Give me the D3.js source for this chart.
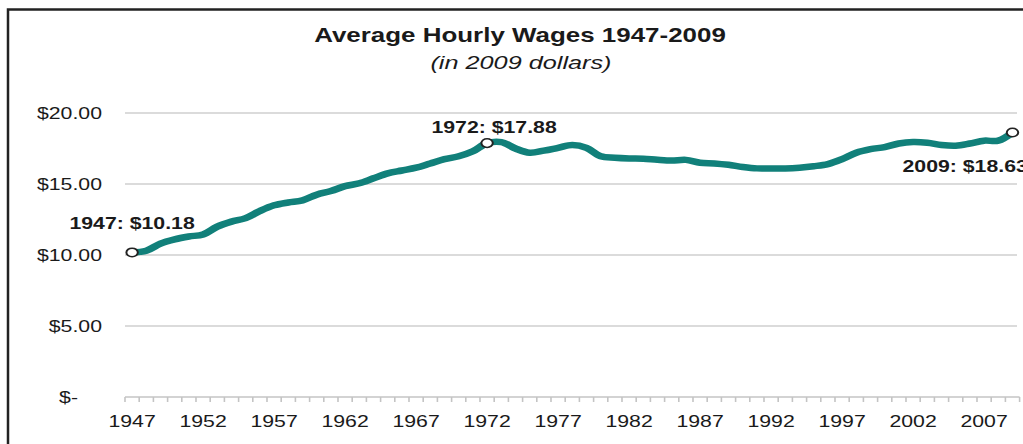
<!DOCTYPE html>
<html>
<head>
<meta charset="utf-8">
<script src="https://cdn.jsdelivr.net/npm/d3@7"></script>
<style>
  html, body { margin: 0; padding: 0; background: #fff; overflow: hidden; }
  text { font-family: "Liberation Sans", Arial, sans-serif; fill: #1a1a1a; }
</style>
</head>
<body>
<script>
// ---- data ----
const years = [1947,1948,1949,1950,1951,1952,1953,1954,1955,1956,1957,1958,1959,
  1960,1961,1962,1963,1964,1965,1966,1967,1968,1969,1970,1971,1972,1973,1974,1975,
  1976,1977,1978,1979,1980,1981,1982,1983,1984,1985,1986,1987,1988,1989,1990,1991,
  1992,1993,1994,1995,1996,1997,1998,1999,2000,2001,2002,2003,2004,2005,2006,2007,
  2008,2009];
const wages = [10.18,10.30,10.80,11.10,11.30,11.45,12.00,12.35,12.60,13.10,13.50,13.70,13.85,
  14.25,14.50,14.85,15.05,15.40,15.75,15.95,16.15,16.45,16.75,16.95,17.30,17.88,17.95,17.50,17.20,
  17.35,17.55,17.75,17.55,16.95,16.85,16.80,16.78,16.70,16.65,16.70,16.50,16.45,16.35,16.20,16.10,
  16.10,16.10,16.15,16.25,16.40,16.75,17.20,17.45,17.60,17.85,17.95,17.90,17.75,17.70,17.85,18.05,
  18.05,18.63];
const xTickLabels = ["1947","1952","1957","1962","1967","1972","1977","1982","1987","1992","1997","2002","2007"];
const yTicks = [0, 5, 10, 15, 20];
const yTickLabels = ["$-", "$5.00", "$10.00", "$15.00", "$20.00"];
const annotYears = [1947, 1972, 2009];
const annotLabels = ["1947: $10.18", "1972: $17.88", "2009: $18.63"];
const titleText = "Average Hourly Wages 1947-2009";
const subtitleText = "(in 2009 dollars)";

// ---- layout ----
const W = 1023, H = 444;
const sx = 1.33; // the reference is stretched horizontally
const data = years.map((yr, i) => ({ year: yr, v: wages[i] }));

const svg = d3.select("body").append("svg").attr("width", W).attr("height", H);
svg.append("rect").attr("width", W).attr("height", H).attr("fill", "#fff");

const g = svg.append("g").attr("transform", `scale(${sx},1)`);

const x = d3.scaleBand().domain(years).range([125 / sx, 1019.6 / sx]).padding(0);
const y = d3.scaleLinear().domain([0, 20]).range([397, 113]);
const bw = x.bandwidth();
const cx = yr => x(yr) + bw / 2;

// gridlines
g.append("g").selectAll("line").data(yTicks.filter(t => t !== 0)).join("line")
  .attr("x1", x.range()[0]).attr("x2", 1017 / sx)
  .attr("y1", d => y(d)).attr("y2", d => y(d))
  .attr("stroke", "#cfcfcf").attr("stroke-width", 1.6);

// x axis line + category boundary ticks
g.append("line")
  .attr("x1", x.range()[0]).attr("x2", x.range()[1])
  .attr("y1", y(0)).attr("y2", y(0))
  .attr("stroke", "#c4c4c4").attr("stroke-width", 1.6);
const bounds = years.map(yr => x(yr)).concat([x.range()[1]]);
g.append("g").selectAll("line").data(bounds).join("line")
  .attr("x1", d => d).attr("x2", d => d)
  .attr("y1", y(0)).attr("y2", y(0) + 5)
  .attr("stroke", "#c4c4c4").attr("stroke-width", 1.2);

// x labels via axis
const xAxis = d3.axisBottom(x).tickValues(xTickLabels.map(Number)).tickSize(0).tickFormat((d, i) => xTickLabels[i]);
const xg = g.append("g").attr("transform", `translate(0,${y(0)})`).call(xAxis);
xg.select(".domain").remove();
xg.selectAll("text").attr("y", 30).attr("dy", 0)
  .style("font-size", "16px").attr("fill", "#1a1a1a");

// y labels via axis
const yAxis = d3.axisLeft(y).tickValues(yTicks).tickSize(0).tickPadding((125 - 102) / sx)
  .tickFormat((d, i) => yTickLabels[i]);
const yg = g.append("g").attr("transform", `translate(${x.range()[0]},0)`).call(yAxis);
yg.select(".domain").remove();
yg.selectAll("text").style("font-size", "16px").attr("fill", "#1a1a1a").attr("dy", "0.36em")
  .attr("dx", d => d === 0 ? -24 / sx : 0);

// line
const line = d3.line().x(d => cx(d.year)).y(d => y(d.v)).curve(d3.curveCatmullRom.alpha(0.5));
g.append("path").datum(data).attr("d", line)
  .attr("fill", "none").attr("stroke", "#11807a").attr("stroke-width", 6.5)
  .attr("stroke-linejoin", "round").attr("stroke-linecap", "round");

// markers
const annot = annotYears.map((yr, i) => ({ year: yr, v: wages[years.indexOf(yr)], label: annotLabels[i] }));
g.append("g").selectAll("circle").data(annot).join("circle")
  .attr("cx", d => cx(d.year)).attr("cy", d => y(d.v)).attr("r", 4.3)
  .attr("fill", "#fff").attr("stroke", "#222").attr("stroke-width", 1.5);

// annotation labels (offsets in screen px)
const offs = [
  { dx: 0, dy: -23, anchor: "middle" },
  { dx: 7, dy: -10, anchor: "middle" },
  { dx: -110, dy: 40, anchor: "start" }
];
g.append("g").selectAll("text").data(annot).join("text")
  .attr("x", (d, i) => cx(d.year) + offs[i].dx / sx)
  .attr("y", (d, i) => y(d.v) + offs[i].dy)
  .attr("text-anchor", (d, i) => offs[i].anchor)
  .style("font-size", "16px").style("font-weight", "bold")
  .text(d => d.label);

// titles
g.append("text").attr("x", 520 / sx).attr("y", 42).attr("text-anchor", "middle")
  .style("font-size", "19.5px").style("font-weight", "bold").text(titleText);
g.append("text").attr("x", 521 / sx).attr("y", 69).attr("text-anchor", "middle")
  .style("font-size", "19px").style("font-style", "italic").text(subtitleText);

// outer frame (extends beyond right and bottom edges)
svg.append("rect").attr("x", 8).attr("y", 9.5).attr("width", W + 20).attr("height", H + 20)
  .attr("fill", "none").attr("stroke", "#222").attr("stroke-width", 2.5);
</script>
</body>
</html>
